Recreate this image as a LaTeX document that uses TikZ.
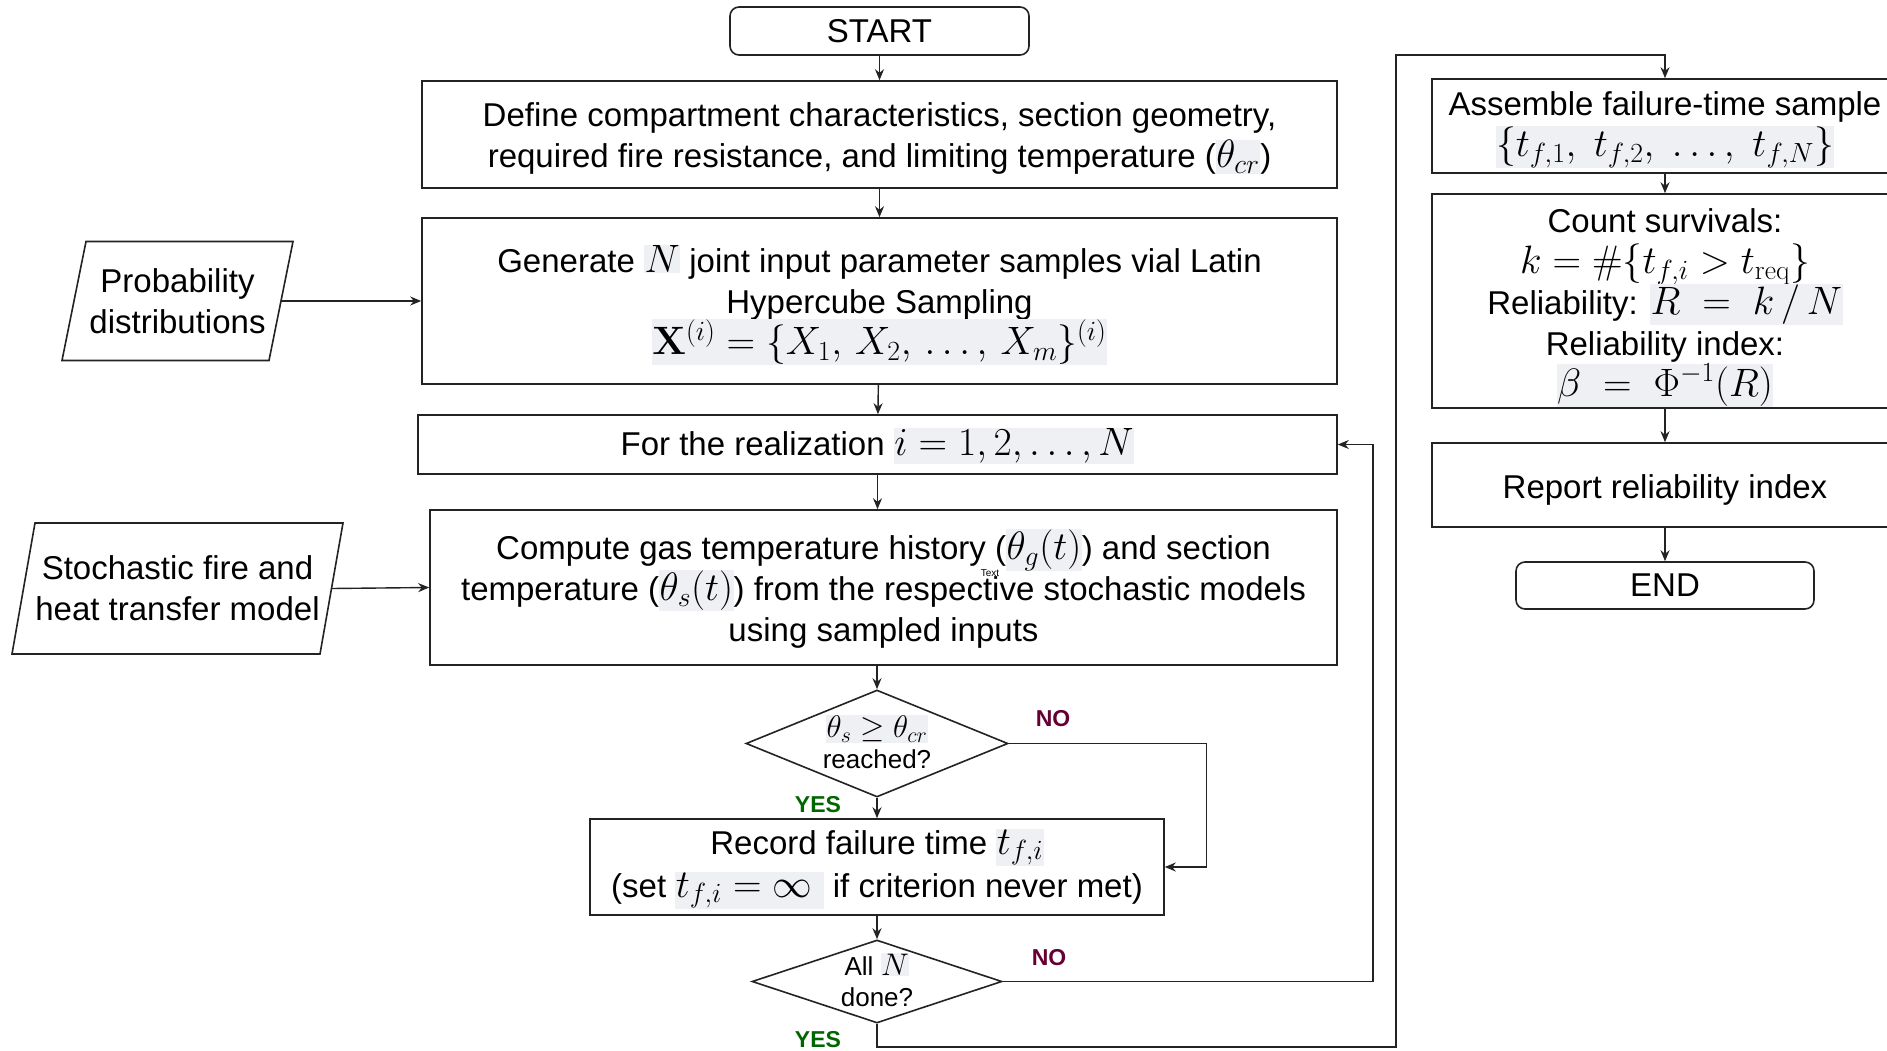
\documentclass[tikz,border=0pt]{standalone}
\usepackage{fix-cm}
\usepackage{graphicx}
\usepackage[no-math]{fontspec}
\setmainfont{Liberation Sans}
\usetikzlibrary{arrows.meta,calc,shapes.geometric}
\definecolor{mathbg}{RGB}{239,240,244}
\definecolor{nocol}{RGB}{102,0,51}
\definecolor{yescol}{RGB}{0,102,0}
\definecolor{linec}{RGB}{35,35,35}
\newcommand{\mm}[1]{\scalebox{1.2}{$#1$}}
\newcommand{\hm}[1]{{\setlength{\fboxsep}{0.5pt}\colorbox{mathbg}{\mm{#1}}}}
\newcommand{\fixls}{\setlength{\lineskiplimit}{-60pt}\setlength{\lineskip}{0pt}}
\newcommand{\bigfont}{\fontsize{33}{41}\selectfont\fixls}
\newcommand{\recfont}{\fontsize{33}{43}\selectfont\fixls}
\newcommand{\smfont}{\fontsize{26}{31}\selectfont\fixls}
\begin{document}
\begin{tikzpicture}[x=1pt,y=-1pt,
  every node/.style={font=\bigfont},
  box/.style={draw=linec,line width=1.6pt,rectangle,align=center,inner sep=0pt},
  term/.style={box,rounded corners=9pt},
  dec/.style={draw=linec,line width=1.6pt,diamond,inner sep=0pt},
  txt/.style={align=center,inner sep=0pt},
  boxt/.style={txt,yshift=-4pt},
  smalltxt/.style={txt,font=\smfont},
  lab/.style={inner sep=0pt,font=\fontsize{23}{28}\selectfont\bfseries},
  arr/.style={draw=linec,line width=1.4pt,-{Stealth[length=11pt,width=9pt]}},
  para/.style={draw=linec,line width=1.6pt}
  ]
\fill[white] (0,0) rectangle (1887,1051);
\useasboundingbox (0,0) rectangle (1887,1051);

% main column
\node[term,minimum width=299pt,minimum height=48pt] (start) at (879.5,31) {START};
\node[box,minimum width=915pt,minimum height=107pt] (define) at (879.5,134.5) {};
\node[boxt] (defineT) at (define)
  {Define compartment characteristics, section geometry,\\ required fire resistance, and limiting temperature (\hm{\theta_{cr}})};
\node[box,minimum width=915pt,minimum height=166pt] (gen) at (879.5,301) {};
\node[boxt] (genT) at (gen)
  {Generate \hm{N} joint input parameter samples vial Latin\\ Hypercube Sampling\\ \hm{\mathbf{X}^{(i)} = \{X_1,\, X_2,\, \ldots,\, X_m\}^{(i)}}};
\node[box,minimum width=919pt,minimum height=59pt] (for) at (877.5,444.5) {};
\node[txt,yshift=-1.5pt] (forT) at (for) {For the realization \hm{i=1,2,\ldots,N}};
\node[box,minimum width=907pt,minimum height=155pt] (compute) at (883.5,587.5) {};
\node[txt,yshift=-1pt] (computeT) at (compute)
  {Compute gas temperature history (\hm{\theta_g(t)}) and section\\ temperature (\hm{\theta_s(t)}) from the respective stochastic models\\ using sampled inputs};
\node[inner sep=0pt,font=\fontsize{10}{12}\selectfont] (stray) at (990,573) {Text};

\node[dec,minimum width=262pt,minimum height=107pt] (d1) at (877,743.5) {};
\node[smalltxt] (d1t) at (877,742) {\hm{\theta_s \geq \theta_{cr}}\\ reached?};
\node[box,minimum width=574pt,minimum height=96pt] (record) at (877,867) {};
\node[txt,yshift=-2pt,font=\recfont] (recordT) at (record)
  {Record failure time \hm{t_{f,i}}\\ (set \hm{t_{f,i} = \infty\ } if criterion never met)};
\node[dec,minimum width=250pt,minimum height=83pt] (d2) at (877,981.5) {};
\node[smalltxt] (d2t) at (877,980) {All \hm{N}\\ done?};

% inputs
\node[txt] (prob) at (177.5,301) {Probability\\ distributions};
\draw[para] ($(prob)+(-91.5,-59.5)$) -- ($(prob)+(115.5,-59.5)$) -- ($(prob)+(91.5,59.5)$) -- ($(prob)+(-115.5,59.5)$) -- cycle;
\coordinate (probR) at ($(prob)+(103.5,0)$);
\node[txt] (stoch) at (177.5,588.5) {Stochastic fire and\\ heat transfer model};
\draw[para] ($(stoch)+(-142.5,-65.5)$) -- ($(stoch)+(165.5,-65.5)$) -- ($(stoch)+(142.5,65.5)$) -- ($(stoch)+(-165.5,65.5)$) -- cycle;
\coordinate (stochR) at ($(stoch)+(154,0)$);

% right column
\node[box,minimum width=466pt,minimum height=94pt] (assemble) at (1665,126) {};
\node[boxt] (assembleT) at (assemble)
  {Assemble failure-time sample\\ \hm{\{t_{f,1},\ t_{f,2},\ \ldots,\ t_{f,N}\}}};
\node[box,minimum width=466pt,minimum height=214pt] (count) at (1665,301) {};
\node[txt,yshift=-6.5pt] (countT) at (count)
  {Count survivals:\\ \mm{k=\#\{t_{f,i}>t_{\mathrm{req}}\}}\\ Reliability: \hm{R\;=\;k\,/\,N}\\ Reliability index:\\ \hm{\beta\;=\;\Phi^{-1}(R)}};
\node[box,minimum width=466pt,minimum height=84pt] (report) at (1665,485) {};
\node[txt,yshift=-5pt] (reportT) at (report) {Report reliability index};
\node[term,minimum width=298pt,minimum height=47pt] (endn) at (1665,585.5) {END};

% connectors
\draw[arr] (start) -- (define);
\draw[arr] (define) -- (gen);
\draw[arr] (gen) -- (for);
\draw[arr] (for.south) -- (for.south |- compute.north);
\draw[arr] (compute.south -| d1.north) -- (d1.north);
\draw[arr] (d1.south) -- (record.north);
\draw[arr] (record.south) -- (d2.north);
\draw[arr] (d1.east) -- ++(197.5,0) |- (record.east);
\draw[arr] (d2.east) -- ++(370,0) |- (for.east);
\coordinate (ya) at (1396,1047);
\coordinate (yb) at (1396,55);
\draw[arr] (d2.south) |- (ya) -- (yb) -| (assemble.north);
\draw[arr] (probR) -- (gen.west);
\draw[arr] (stochR) -- (compute.west);
\draw[arr] (assemble) -- (count);
\draw[arr] (count) -- (report);
\draw[arr] (report) -- (endn);

% labels
\node[lab,text=nocol] (no1) at (1053,719) {NO};
\node[lab,text=yescol] (yes1) at (818,805) {YES};
\node[lab,text=nocol] (no2) at (1049,958) {NO};
\node[lab,text=yescol] (yes2) at (818,1040) {YES};
\end{tikzpicture}
\end{document}
